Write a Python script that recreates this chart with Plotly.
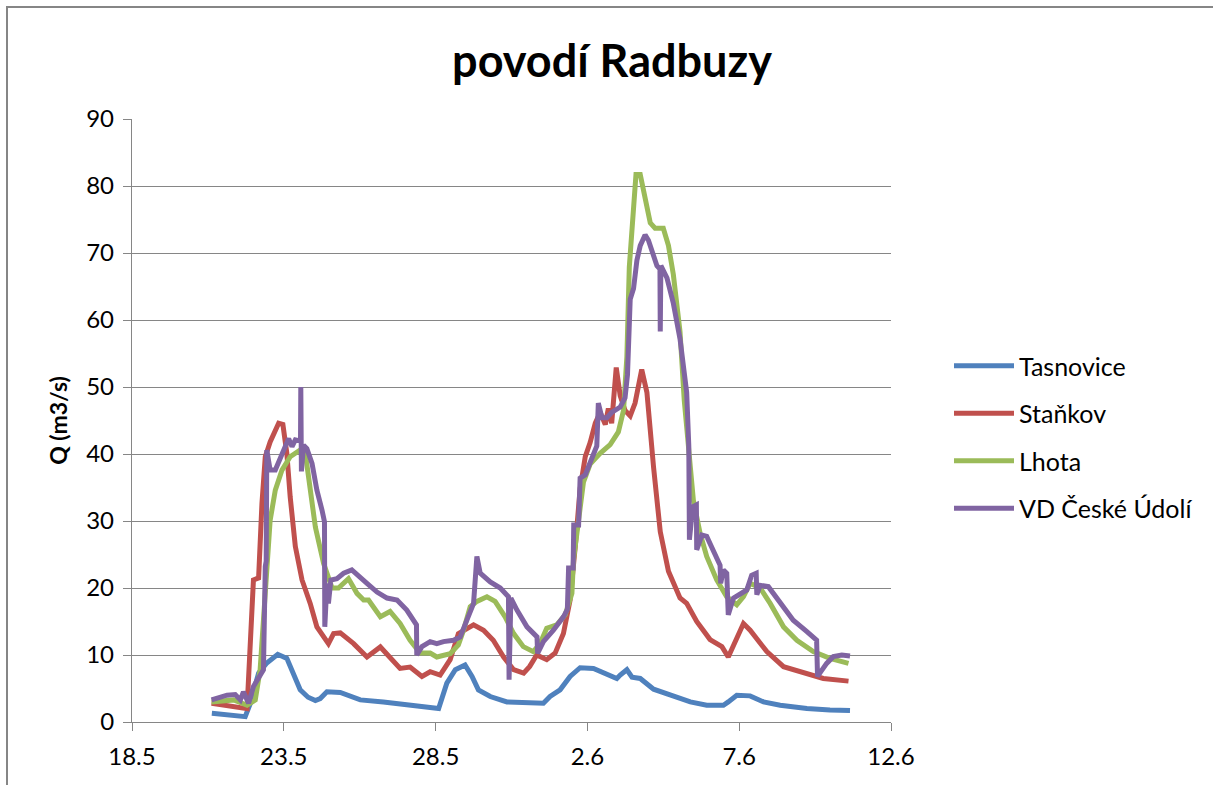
import plotly.graph_objects as go

# x values: days since 18.5. (18 May, 00:00); y values: Q in m3/s
tick_days = [0, 5, 10, 15, 20, 25]
tick_labels = ["18.5", "23.5", "28.5", "2.6", "7.6", "12.6"]

tas_days = [2.63, 3.2, 3.73, 3.9, 4.17, 4.44, 4.8, 5.1, 5.32, 5.54, 5.8, 6.04, 6.2, 6.42, 6.86,
            7.52, 8.28, 9.27, 9.8, 10.1, 10.37, 10.65, 10.97, 11.2, 11.41, 11.8, 12.35, 13.0,
            13.55, 13.77, 14.1, 14.43, 14.76, 15.2, 15.64, 15.97, 16.08, 16.3, 16.47, 16.74,
            17.18, 17.83, 18.39, 18.93, 19.48, 19.64, 19.92, 20.36, 20.8, 21.35, 22.23, 22.99, 23.65]
tas_q = [1.3, 1.0, 0.8, 2.8, 7.3, 8.8, 10.1, 9.5, 7.3, 4.8, 3.7, 3.2, 3.5, 4.5, 4.4,
         3.3, 3.0, 2.5, 2.3, 2.0, 5.8, 7.8, 8.5, 6.8, 4.8, 3.8, 3.0, 2.9,
         2.8, 3.8, 4.8, 6.8, 8.1, 8.0, 7.25, 6.5, 7.0, 7.8, 6.7, 6.5,
         4.9, 3.8, 3.0, 2.5, 2.5, 3.0, 4.0, 3.9, 3.0, 2.5, 2.0, 1.8, 1.7]

sta_days = [2.62, 3.79, 4.0, 4.17, 4.28, 4.39, 4.55, 4.72, 4.83, 4.97, 5.1, 5.21, 5.38, 5.6,
            5.87, 6.09, 6.31, 6.47, 6.64, 6.86, 7.3, 7.74, 8.18, 8.5, 8.83, 9.16, 9.55, 9.82,
            10.15, 10.48, 10.75, 11.25, 11.58, 11.9, 12.24, 12.57, 12.9, 13.1, 13.33, 13.66,
            13.94, 14.21, 14.43, 14.6, 14.76, 14.93, 15.09, 15.26, 15.42, 15.59, 15.69, 15.8,
            15.95, 16.08, 16.24, 16.41, 16.57, 16.79, 16.96, 17.18, 17.4, 17.67, 18.05, 18.27,
            18.6, 19.04, 19.43, 19.64, 19.81, 20.14, 20.36, 20.91, 21.46, 22.11, 22.77, 23.6]
sta_q = [2.8, 2.0, 21.2, 21.5, 32.6, 39.6, 41.8, 43.3, 44.6, 44.4, 40.1, 33.6, 26.2, 21.2,
         17.7, 14.2, 12.7, 11.7, 13.2, 13.3, 11.7, 9.7, 11.2, 9.7, 8.0, 8.2, 6.8, 7.5,
         7.0, 9.3, 13.2, 14.5, 13.7, 12.2, 9.7, 7.8, 7.3, 8.3, 10.0, 9.3,
         10.3, 13.2, 18.2, 26.2, 34.8, 39.6, 41.7, 44.6, 46.2, 44.4, 46.8, 44.6,
         52.9, 48.7, 46.5, 45.7, 47.6, 52.6, 49.2, 38.0, 28.4, 22.5, 18.5, 17.7,
         15.0, 12.3, 11.25, 9.7, 11.5, 14.7, 13.7, 10.5, 8.25, 7.3, 6.5, 6.1]

lho_days = [2.62, 3.35, 3.79, 4.06, 4.22, 4.39, 4.55, 4.72, 4.94, 5.21, 5.54, 5.71, 5.87, 6.04,
            6.31, 6.59, 6.8, 7.13, 7.41, 7.63, 7.79, 8.18, 8.5, 8.83, 9.16, 9.49, 9.82, 10.04,
            10.48, 10.75, 10.92, 11.14, 11.36, 11.69, 11.96, 12.29, 12.57, 12.89, 13.22, 13.44,
            13.66, 13.99, 14.27, 14.49, 14.54, 14.71, 14.87, 15.09, 15.42, 15.75, 16.02, 16.19,
            16.3, 16.38, 16.5, 16.6, 16.74, 16.87, 17.07, 17.23, 17.5, 17.67, 17.83, 18.05,
            18.19, 18.49, 18.71, 18.93, 19.26, 19.59, 19.92, 20.14, 20.36, 20.69, 21.02, 21.46,
            21.9, 22.44, 22.99, 23.6]
lho_q = [3.0, 3.3, 2.5, 3.3, 7.8, 20.2, 30.1, 34.6, 37.6, 39.6, 40.6, 40.1, 35.1, 29.1,
         23.7, 20.0, 20.0, 21.4, 19.2, 18.2, 18.2, 15.7, 16.5, 14.7, 12.2, 10.3, 10.3, 9.7,
         10.2, 11.5, 13.7, 17.2, 18.0, 18.7, 18.0, 15.7, 13.2, 11.25, 10.5, 11.7,
         14.0, 14.5, 16.0, 19.2, 24.1, 30.5, 35.8, 38.5, 40.1, 41.4, 43.3, 46.5,
         54.5, 67.9, 75.9, 81.7, 81.7, 78.5, 74.5, 73.7, 73.7, 71.1, 66.8, 58.3,
         48.0, 33.1, 28.2, 24.7, 21.2, 18.7, 17.5, 18.7, 20.7, 20.0, 17.7, 14.2,
         12.2, 10.5, 9.5, 8.75]

vd_days = [2.62, 3.13, 3.4, 3.57, 3.67, 3.84, 4.0, 4.22, 4.33, 4.39, 4.42, 4.44, 4.55, 4.72,
           4.94, 5.16, 5.27, 5.38, 5.49, 5.55, 5.56, 5.58, 5.65, 5.76, 5.93, 6.09, 6.26, 6.34,
           6.35, 6.42, 6.47, 6.55, 6.75, 6.97, 7.24, 7.46, 7.74, 8.07, 8.4, 8.73, 9.05, 9.37,
           9.38, 9.55, 9.82, 10.04, 10.26, 10.59, 10.81, 11.03, 11.25, 11.36, 11.47, 11.8,
           12.13, 12.4, 12.42, 12.48, 12.68, 13.01, 13.34, 13.36, 13.55, 13.88, 14.21, 14.34,
           14.38, 14.53, 14.55, 14.71, 14.76, 14.93, 15.15, 15.31, 15.36, 15.48, 15.64, 15.8,
           16.08, 16.24, 16.32, 16.41, 16.52, 16.63, 16.74, 16.9, 17.01, 17.18, 17.29, 17.39,
           17.4, 17.42, 17.62, 17.83, 18.05, 18.27, 18.34, 18.36, 18.47, 18.59, 18.6, 18.77,
           18.93, 19.15, 19.37, 19.39, 19.48, 19.59, 19.64, 19.81, 20.03, 20.25, 20.41, 20.56,
           20.58, 20.69, 20.96, 21.35, 21.78, 22.23, 22.55, 22.58, 22.88, 23.1, 23.38, 23.65]
vd_q = [3.3, 4.0, 4.1, 3.3, 4.5, 2.8, 5.3, 6.8, 7.8, 23.2, 24.0, 40.6, 37.6, 37.6,
        40.1, 42.3, 41.1, 42.1, 42.0, 42.0, 50.0, 37.4, 41.3, 40.8, 38.6, 34.6, 31.6, 29.9,
        14.2, 20.7, 17.7, 21.2, 21.4, 22.2, 22.7, 21.9, 20.7, 19.4, 18.5, 18.2, 16.7, 14.5,
        10.0, 11.25, 12.0, 11.7, 12.0, 12.2, 12.7, 15.2, 17.7, 24.7, 22.2, 20.9,
        20.0, 18.7, 6.3, 18.5, 16.7, 14.2, 12.7, 10.25, 12.0, 13.7, 15.7, 16.8,
        23.0, 23.0, 29.4, 29.4, 36.4, 36.9, 39.3, 41.2, 47.6, 45.4, 45.4, 46.2,
        47.0, 48.4, 51.8, 63.1, 64.7, 68.9, 71.1, 72.7, 71.9, 69.5, 68.1, 67.6,
        58.3, 68.1, 66.3, 62.5, 57.2, 49.2, 41.2, 27.2, 32.1, 32.4, 25.7, 27.9,
        27.7, 25.7, 23.4, 20.7, 22.7, 22.2, 16.0, 18.5, 19.0, 19.7, 21.9, 22.2,
        19.0, 20.4, 20.2, 17.7, 15.2, 13.5, 12.2, 6.8, 8.75, 9.75, 10.0, 9.85]

series = [
    ("Tasnovice", tas_days, tas_q, "#4F81BD"),
    ("Staňkov", sta_days, sta_q, "#C0504D"),
    ("Lhota", lho_days, lho_q, "#9BBB59"),
    ("VD České Údolí", vd_days, vd_q, "#8064A2"),
]

FONT = "Lato, 'Open Sans', sans-serif"
GRID = "#868686"

fig = go.Figure()
for i, (name, xs, ys, col) in enumerate(series):
    fig.add_trace(go.Scatter(
        x=xs, y=ys, name=name, mode="lines",
        line=dict(color=col, width=5),
        legendgroup=f"g{i}",
    ))

fig.update_layout(
    width=1213, height=785,
    margin=dict(l=132, r=322, t=119, b=63, autoexpand=False),
    paper_bgcolor="white", plot_bgcolor="white",
    font=dict(family=FONT, color="black"),
    title=dict(text="<b>povodí Radbuzy</b>", x=612 / 1213, xanchor="center",
               xref="container", y=1 - 61 / 785, yanchor="middle", yref="container",
               font=dict(size=45, family=FONT, color="black")),
    xaxis=dict(range=[0, 25], tickvals=tick_days, ticktext=tick_labels,
               showgrid=False, zeroline=False, showline=True, linecolor=GRID, linewidth=1.3,
               ticks="outside", ticklen=8, tickcolor=GRID, tickwidth=1.3,
               tickfont=dict(size=24, family=FONT, color="black"), ticklabelstandoff=5),
    yaxis=dict(range=[0, 90], dtick=10, showgrid=True, gridcolor=GRID, gridwidth=1.3,
               zeroline=False, showline=True, linecolor=GRID, linewidth=1.3,
               ticks="outside", ticklen=8, tickcolor=GRID, tickwidth=1.3,
               tickfont=dict(size=24, family=FONT, color="black"), ticklabelstandoff=4,
               title=dict(text="<b>Q (m3/s)</b>", font=dict(size=23, family=FONT, color="black"),
                          standoff=12)),
    legend=dict(x=(949 - 132) / 759, xanchor="left", y=(722 - 343) / 603, yanchor="top",
                font=dict(size=25, family=FONT, color="black"), itemwidth=60,
                traceorder="grouped", tracegroupgap=12, bgcolor="rgba(0,0,0,0)"),
    showlegend=True,
)

fig.add_shape(type="rect", xref="paper", yref="paper",
              x0=(7 - 132) / 759, x1=(1220 - 132) / 759,
              y0=(722 - 800) / 603, y1=(722 - 7) / 603,
              line=dict(color=GRID, width=2), fillcolor="rgba(0,0,0,0)", layer="below")

fig.write_html("out.html", config={"displayModeBar": False},
               post_script="document.body.style.margin='0';")
